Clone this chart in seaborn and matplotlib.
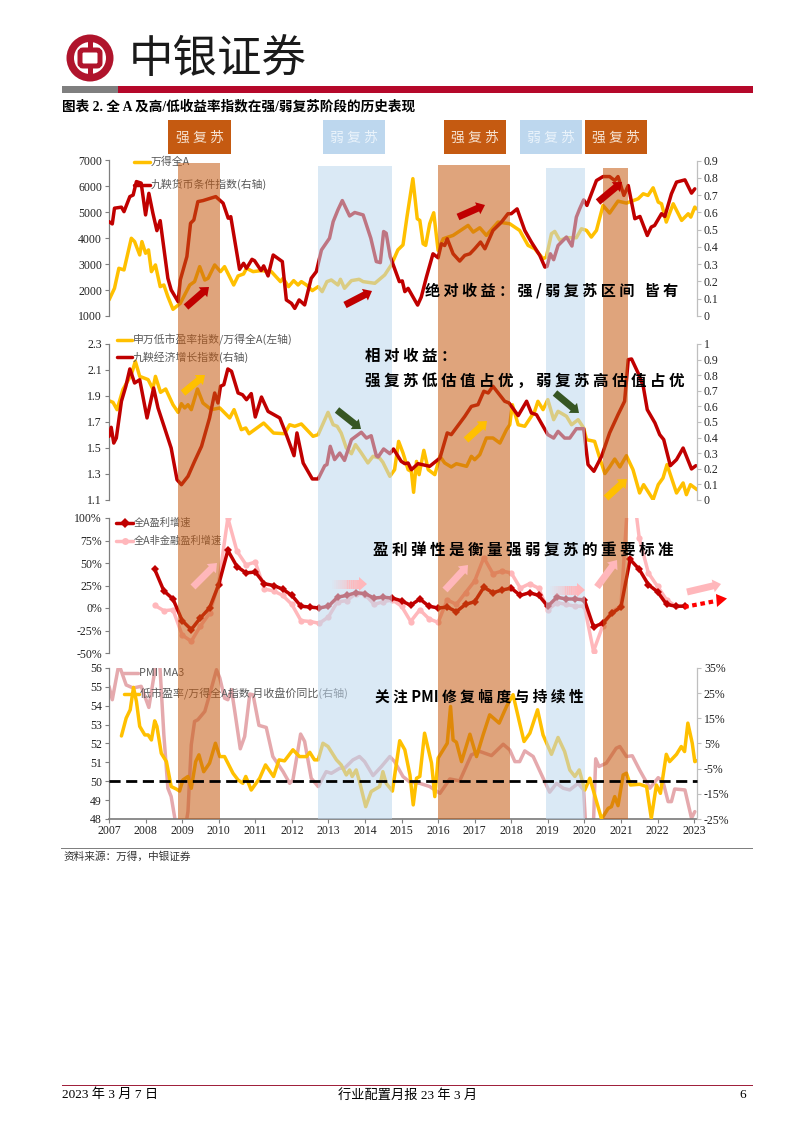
import matplotlib
matplotlib.use('Agg')
import numpy as np
import matplotlib.pyplot as plt
import seaborn as sns
from matplotlib.patches import Rectangle, Circle, FancyArrow, FancyBboxPatch, Polygon

# Panel 1
wind_x = [2007.0,2007.15,2007.27,2007.41,2007.61,2007.70,2007.84,2007.90,2008.0,2008.08,2008.16,2008.27,2008.40,2008.50,2008.61,2008.75,2008.95,2009.21,2009.34,2009.48,2009.62,2009.71,2009.89,2010.05,2010.16,2010.41,2010.53,2010.68,2010.76,2010.94,2011.16,2011.44,2011.69,2011.76,2011.91,2012.05,2012.17,2012.26,2012.40,2012.56,2012.72,2012.83,2012.96,2013.08,2013.26,2013.33,2013.44,2013.63,2013.84,2013.95,2014.27,2014.54,2014.72,2014.90,2015.04,2015.15,2015.31,2015.43,2015.50,2015.59,2015.66,2015.77,2015.88,2016.00,2016.14,2016.41,2016.82,2016.96,2017.14,2017.32,2017.64,2017.96,2018.23,2018.46,2018.64,2018.87,2018.96,2019.10,2019.19,2019.33,2019.51,2019.78,2019.92,2020.06,2020.19,2020.33,2020.51,2020.69,2020.92,2021.15,2021.47,2021.61,2021.74,2021.88,2022.02,2022.11,2022.24,2022.43,2022.66,2022.84,2022.91,2023.02,2023.06]
wind_y = [1618,2069,2841,2777,4000,3871,3356,3871,3420,3550,2712,2970,2133,2197,1747,1258,1490,2197,2326,2905,2390,2455,2970,2712,2905,2197,2545,2622,2841,2712,2751,2712,2326,2455,2133,2365,2197,2326,2197,1979,2133,1940,2326,2390,2197,2416,2069,2365,2416,2326,2262,2584,2970,3550,3743,4837,6300,4752,4688,3788,3724,4559,4984,3532,3981,4110,4495,4238,4405,4110,4624,4559,4302,3724,3596,3210,3274,4174,4264,3917,4020,4020,4367,4302,4045,4302,5266,4971,5433,5356,5523,5716,5652,5947,5395,5330,4624,5330,4688,4945,4816,5202,5138]
money_x = [2007.0,2007.09,2007.15,2007.34,2007.41,2007.57,2007.66,2007.75,2007.88,2008.0,2008.09,2008.20,2008.31,2008.40,2008.61,2008.70,2008.89,2008.95,2009.13,2009.23,2009.32,2009.43,2009.57,2009.92,2010.12,2010.26,2010.33,2010.57,2010.68,2010.76,2010.91,2010.98,2011.16,2011.23,2011.35,2011.49,2011.74,2011.85,2011.99,2012.08,2012.2,2012.35,2012.53,2012.67,2012.81,2013.03,2013.13,2013.26,2013.38,2013.58,2013.72,2013.95,2014.16,2014.31,2014.42,2014.51,2014.58,2014.69,2014.94,2015.02,2015.09,2015.18,2015.44,2015.54,2015.68,2015.86,2016.0,2016.09,2016.18,2016.25,2016.41,2016.59,2016.73,2016.87,2017.0,2017.16,2017.28,2017.50,2017.73,2017.91,2018.0,2018.16,2018.37,2018.55,2018.78,2018.92,2018.98,2019.07,2019.16,2019.28,2019.51,2019.66,2019.78,2019.87,2019.98,2020.07,2020.33,2020.51,2020.69,2020.83,2020.92,2021.08,2021.2,2021.38,2021.52,2021.72,2021.83,2021.92,2022.11,2022.2,2022.38,2022.52,2022.75,2022.93,2023.02]
money_y = [.546,.533,.624,.63,.604,.691,.70,.778,.769,.585,.71,.595,.494,.552,.218,.151,.083,.209,.344,.537,.556,.662,.668,.691,.653,.566,.575,.27,.305,.276,.328,.32,.263,.29,.232,.353,.315,.093,.073,.044,.093,.064,.218,.257,.382,.45,.546,.614,.668,.579,.599,.585,.45,.315,.309,.489,.479,.344,.199,.203,.141,.16,.063,.11,.225,.36,.337,.418,.408,.447,.36,.318,.351,.36,.389,.428,.389,.495,.543,.592,.592,.62,.495,.428,.351,.283,.287,.36,.326,.408,.457,.405,.572,.62,.672,.64,.784,.807,.807,.784,.807,.698,.755,.563,.576,.466,.515,.524,.592,.576,.707,.775,.788,.711,.736]

# Panel 2
lowpe_x = [2007.0,2007.11,2007.22,2007.38,2007.61,2007.72,2007.84,2008.07,2008.2,2008.27,2008.41,2008.55,2008.75,2008.89,2008.98,2009.07,2009.16,2009.25,2009.42,2009.57,2009.8,2010.03,2010.3,2010.42,2010.62,2010.74,2010.83,2011.23,2011.5,2011.8,2011.94,2012.08,2012.26,2012.58,2012.72,2012.99,2013.13,2013.24,2013.35,2013.49,2013.63,2013.74,2013.9,2014.08,2014.22,2014.4,2014.49,2014.68,2014.81,2014.92,2015.04,2015.18,2015.27,2015.33,2015.41,2015.48,2015.61,2015.73,2015.91,2016.05,2016.18,2016.36,2016.5,2016.78,2016.91,2017.0,2017.14,2017.32,2017.5,2017.69,2017.87,2017.96,2018.03,2018.19,2018.37,2018.64,2018.73,2018.87,2019.0,2019.16,2019.28,2019.51,2019.65,2019.83,2019.98,2020.06,2020.28,2020.42,2020.56,2020.69,2020.83,2020.97,2021.15,2021.33,2021.51,2021.62,2021.88,2022.02,2022.15,2022.26,2022.52,2022.7,2022.79,2022.9,2023.08]
lowpe_y = [1.864,1.851,1.795,1.949,2.064,2.167,2.051,2.026,1.954,2.051,1.928,1.954,1.833,1.774,1.841,1.808,1.833,1.795,1.954,1.846,1.795,1.808,1.731,1.795,1.641,1.654,1.61,1.692,1.615,1.61,1.679,1.667,1.685,1.59,1.603,1.774,1.679,1.667,1.615,1.5,1.456,1.526,1.462,1.385,1.436,1.423,1.39,1.282,1.333,1.551,1.462,1.333,1.32,1.159,1.397,1.295,1.482,1.333,1.295,1.436,1.385,1.354,1.379,1.359,1.436,1.41,1.449,1.577,1.577,1.538,1.641,1.679,1.833,1.679,1.667,1.782,1.859,1.795,1.872,1.718,1.782,1.744,1.679,1.718,1.654,1.564,1.551,1.423,1.303,1.354,1.415,1.354,1.441,1.333,1.154,1.218,1.103,1.218,1.269,1.372,1.154,1.231,1.141,1.218,1.18]
growth_x = [2007.0,2007.06,2007.13,2007.2,2007.34,2007.46,2007.57,2007.7,2007.84,2008.04,2008.22,2008.34,2008.52,2008.7,2008.86,2008.98,2009.16,2009.34,2009.53,2009.75,2009.89,2009.98,2010.05,2010.14,2010.25,2010.35,2010.53,2010.65,2010.76,2010.89,2011.0,2011.17,2011.35,2011.67,2011.85,2012.06,2012.14,2012.31,2012.56,2012.72,2012.9,2012.96,2013.05,2013.17,2013.31,2013.44,2013.63,2013.9,2014.04,2014.17,2014.31,2014.36,2014.51,2014.68,2014.78,2014.99,2015.09,2015.18,2015.27,2015.45,2015.77,2016.05,2016.25,2016.36,2016.73,2016.91,2017.09,2017.25,2017.37,2017.5,2017.82,2017.94,2018.19,2018.42,2018.55,2018.69,2019.0,2019.16,2019.28,2019.46,2019.6,2019.78,2019.98,2020.1,2020.26,2020.47,2020.69,2020.92,2021.1,2021.2,2021.29,2021.47,2021.61,2021.72,2021.93,2022.06,2022.17,2022.35,2022.52,2022.7,2022.93,2023.05]
growth_y = [.408,.466,.365,.397,.633,.729,.84,.75,.771,.526,.718,.59,.462,.333,.13,.098,.152,.248,.344,.526,.686,.622,.729,.739,.84,.825,.686,.675,.643,.682,.532,.66,.568,.526,.419,.284,.43,.237,.135,.135,.22,.227,.344,.259,.301,.254,.387,.434,.397,.412,.284,.276,.327,.297,.327,.248,.233,.237,.194,.233,.216,.269,.43,.419,.536,.6,.611,.697,.686,.729,.633,.622,.541,.633,.558,.547,.419,.397,.44,.397,.397,.457,.457,.227,.184,.28,.43,.547,.633,.9,.904,.814,.729,.579,.494,.419,.387,.22,.259,.333,.199,.22]

# Panel 3, quarterly from 2008Q2 to 2022Q4
profit_all = [43,19,10,-14,-24,-11,0,26,64,46,39,40,27,25,21,14,2,1,0,2,12,14,17,16,11,12,11,8,3,10,2,0,1,-4,4,7,23,17,20,22,14,17,14,2,12,10,10,9,-21,-17,-6,1,54,43,26,18,4,2,2]
profit_nonfin = [3,-3,-2,-30,-37,-20,-6,28,100,63,48,51,21,19,14,4,-14,-15,-17,-10,7,8,16,15,4,7,9,2,-15,-2,-12,-16,9,4,17,30,56,38,41,39,22,27,22,-2,6,4,2,2,-48,-20,-4,2,160,78,39,24,9,2,2]
profit_x = list(np.arange(2008.25, 2022.76, 0.25))

# Panel 4
pmi_x = [2007.0,2007.09,2007.27,2007.47,2007.66,2007.88,2008.09,2008.28,2008.39,2008.5,2008.61,2008.7,2008.8,2008.84,2009.07,2009.16,2009.25,2009.34,2009.43,2009.62,2009.75,2009.94,2010.03,2010.16,2010.25,2010.35,2010.44,2010.59,2010.71,2010.85,2010.94,2011.1,2011.3,2011.48,2011.76,2011.94,2012.03,2012.24,2012.35,2012.53,2012.72,2012.94,2013.08,2013.31,2013.44,2013.67,2013.85,2013.99,2014.22,2014.45,2014.68,2014.81,2015.04,2015.23,2015.5,2015.77,2016.05,2016.32,2016.59,2016.91,2017.14,2017.46,2017.78,2017.96,2018.1,2018.23,2018.37,2018.6,2018.83,2019.05,2019.24,2019.42,2019.6,2019.83,2019.98,2020.03,2020.15,2020.24,2020.31,2020.4,2020.6,2020.87,2020.97,2021.15,2021.31,2021.51,2021.79,2022.02,2022.15,2022.29,2022.38,2022.47,2022.75,2022.93,2023.02]
pmi_y = [55.03,54.32,56.2,55.1,54.94,55.03,53.91,56.18,56.18,52.46,49.63,49.19,48.04,47.3,47.3,48.4,51.93,53.17,53.26,53.7,54.58,55.91,55.47,54.4,54.32,54.85,53.7,51.72,52.37,54.62,54.58,52.96,52.85,51.31,50.51,49.89,50.07,52.5,52.11,50.16,49.72,50.51,50.42,50.69,50.69,51.13,51.31,51.04,50.3,50.78,51.31,51.04,50.25,49.95,49.89,49.72,49.36,50.12,50.02,51.4,51.58,51.36,51.96,51.66,51.04,51.04,51.61,51.31,50.34,49.42,49.89,49.63,49.54,49.89,49.54,47.86,47.3,47.3,51.19,50.78,50.96,51.75,51.84,51.31,51.35,50.6,49.63,50.19,49.98,48.92,48.92,49.59,49.54,48.04,48.39]
pe_yoy_x = [2007.34,2007.47,2007.58,2007.67,2007.75,2007.84,2007.98,2008.07,2008.16,2008.25,2008.31,2008.43,2008.57,2008.7,2008.84,2008.93,2009.02,2009.16,2009.25,2009.37,2009.46,2009.59,2009.75,2009.91,2010.03,2010.16,2010.39,2010.53,2010.66,2010.74,2010.89,2011.12,2011.28,2011.5,2011.65,2011.8,2012.03,2012.21,2012.4,2012.49,2012.62,2012.72,2012.85,2012.99,2013.22,2013.35,2013.49,2013.58,2013.65,2013.76,2013.85,2014.02,2014.17,2014.4,2014.49,2014.58,2014.75,2014.95,2015.09,2015.23,2015.32,2015.41,2015.5,2015.63,2015.82,2015.91,2016.0,2016.25,2016.34,2016.41,2016.5,2016.64,2016.87,2017.05,2017.23,2017.41,2017.67,2017.87,2018.05,2018.23,2018.35,2018.51,2018.72,2018.87,2019.1,2019.28,2019.46,2019.6,2019.74,2019.86,2020.01,2020.15,2020.28,2020.47,2020.65,2020.74,2020.83,2020.92,2021.06,2021.15,2021.26,2021.51,2021.7,2021.83,2021.97,2022.08,2022.24,2022.33,2022.52,2022.65,2022.74,2022.83,2022.95,2023.02,2023.06]
pe_yoy_y = [8.0,15.1,18.4,27.3,21.7,11.8,8.4,8.4,6.4,14.0,11.8,1.1,-2.2,-12.1,-13.1,-13.9,-9.5,-8.1,-12.8,-2.2,0.5,-6.2,-2.8,5.1,-0.2,-0.2,-6.8,-9.5,-10.8,-8.1,-13.5,-8.8,-3.5,-8.1,-1.5,-1.9,2.5,-0.2,-0.2,1.5,-1.5,-1.5,5.1,3.8,-1.5,-3.5,-7.5,-5.5,-8.1,-5.5,-10.1,-20.1,-14.1,-12.1,-6.2,-10.8,-13.9,6.1,2.5,-7.5,-19.4,-8.8,-8.1,9.1,-2.8,-16.1,-0.8,5.1,19.7,6.4,5.5,-2.2,8.7,-0.2,8.4,16.4,13.1,19.7,24.4,13.1,5.8,9.1,18.4,8.4,0.7,7.4,1.8,-5.5,-8.1,-5.5,-13.5,-8.8,-15.4,-25,-20.8,-20.1,-16.1,-19.7,-7.5,-6.8,-11.5,-11.2,-12.1,-24.7,-11.5,-14.8,0.7,-2.2,0.7,3.8,1.8,13.1,5.1,-2.2,-1.9]

year_ticks = list(range(2007, 2024))
strong_bands = [(2008.87, 2010.03), (2016.0, 2017.97), (2020.5, 2021.18)]
weak_bands = [(2012.72, 2014.74), (2018.95, 2020.0)]

GOLD = '#FFC000'
RED = '#C00000'
PINK = '#FFB7BB'
PMI_PINK = '#E5A9AD'
BROWN = '#C55A11'
BLUE = '#BDD7EE'
CJK = 'Noto Sans CJK SC'
SERIF = ['Liberation Serif', CJK]
LW = 2.5

sns.set_theme(style='ticks')
plt.rcParams['font.family'] = SERIF
plt.rcParams['axes.unicode_minus'] = False
plt.rcParams['lines.solid_joinstyle'] = 'round'

W, H = 802, 1133
fig = plt.figure(figsize=(W / 100, H / 100), dpi=100)
X0, X1 = 109, 697


def px(year):
    return 109.3 + (year - 2007) * 36.56


def make_ax(top, bottom):
    ax = fig.add_axes([X0 / W, 1 - bottom / H, (X1 - X0) / W, (bottom - top) / H])
    ax.set_xlim(2007, 2023.08)
    ax.patch.set_alpha(0)
    return ax


def style_axis(ax, side, color):
    ax.spines[['top', 'bottom', 'left', 'right']].set_visible(False)
    ax.spines[side].set_visible(True)
    ax.spines[side].set_color(color)
    ax.spines[side].set_linewidth(0.9)
    ax.tick_params(axis='y', colors=color, labelcolor='#222222', labelsize=8.5, length=3, width=0.8, pad=2)
    ax.tick_params(axis='x', bottom=False, labelbottom=False)
    ax.set_xlabel('')
    ax.set_ylabel('')


def line(ax, x, y, color, lw=LW, **kw):
    sns.lineplot(x=x, y=y, ax=ax, color=color, linewidth=lw, errorbar=None, sort=False, **kw)


def spaced(s):
    return ' '.join(s)


# panel 1
ax1 = make_ax(160.5, 316)
ax1r = ax1.twinx()
line(ax1, wind_x, wind_y, GOLD)
line(ax1r, money_x, money_y, RED)
ax1.set_ylim(1000, 7000)
ax1.set_yticks(range(1000, 7001, 1000))
ax1r.set_ylim(0, 0.9)
ax1r.set_yticks(np.arange(0, 0.91, 0.1))
ax1r.set_yticklabels(['0', '0.1', '0.2', '0.3', '0.4', '0.5', '0.6', '0.7', '0.8', '0.9'])

# panel 2
ax2 = make_ax(344, 500)
ax2r = ax2.twinx()
line(ax2, lowpe_x, lowpe_y, GOLD)
line(ax2r, growth_x, growth_y, RED)
ax2.set_ylim(1.1, 2.3)
ax2.set_yticks([1.1, 1.3, 1.5, 1.7, 1.9, 2.1, 2.3])
ax2r.set_ylim(0, 1)
ax2r.set_yticks(np.arange(0, 1.01, 0.1))
ax2r.set_yticklabels(['0', '0.1', '0.2', '0.3', '0.4', '0.5', '0.6', '0.7', '0.8', '0.9', '1'])

# panel 3
ax3 = make_ax(518, 653)
line(ax3, profit_x, profit_nonfin, PINK, marker='o', markersize=4.5, markeredgewidth=0)
line(ax3, profit_x, profit_all, RED, marker='D', markersize=4, markeredgewidth=0)
ax3.set_ylim(-50, 100)
ax3.set_yticks([-50, -25, 0, 25, 50, 75, 100])
ax3.set_yticklabels(['-50%', '-25%', '0%', '25%', '50%', '75%', '100%'])

# panel 4
ax4 = make_ax(668, 819)
ax4r = ax4.twinx()
line(ax4, pmi_x, pmi_y, PMI_PINK)
line(ax4r, pe_yoy_x, pe_yoy_y, GOLD)
ax4.set_ylim(48, 56)
ax4.set_yticks(range(48, 57))
ax4r.set_ylim(-25, 35)
ax4r.set_yticks(range(-25, 36, 10))
ax4r.set_yticklabels([f'{v}%' for v in range(-25, 36, 10)])

for a in (ax1, ax2, ax3, ax4):
    style_axis(a, 'left', '#7F7F7F')
for a in (ax1r, ax2r, ax4r):
    style_axis(a, 'right', '#BFBFBF')
ax4.spines['bottom'].set_visible(True)
ax4.spines['bottom'].set_color('#7F7F7F')
ax4.set_xticks(year_ticks)
ax4.tick_params(axis='x', bottom=True, labelbottom=True, colors='#7F7F7F', labelcolor='#222222',
                labelsize=8.5, length=3, width=0.8, pad=1)
ax4r.tick_params(axis='x', bottom=False, labelbottom=False)

# page furniture and shading on one pixel-scaled overlay
ov = fig.add_axes([0, 0, 1, 1], zorder=20)
ov.set_xlim(0, W)
ov.set_ylim(H, 0)
ov.axis('off')
ov.patch.set_alpha(0)


def rect(x0, y0, x1, y1, color, alpha=1.0, z=1):
    ov.add_patch(Rectangle((x0, y0), x1 - x0, y1 - y0, facecolor=color, edgecolor='none', alpha=alpha, zorder=z))


def label(x, y, s, size, color='black', family=CJK, z=6, ha='left', **kw):
    ov.text(x, y, s, fontsize=size, color=color, family=family, ha=ha, va='center', zorder=z, **kw)


# logo
LOGO = '#B0142C'
cx, cy = 90, 58
ov.add_patch(Circle((cx, cy), 23.5, facecolor=LOGO, edgecolor='none', zorder=2))
ov.add_patch(Circle((cx, cy), 16, facecolor='white', edgecolor='none', zorder=2))
rect(cx - 2.5, cy - 20, cx + 2.5, cy + 20, LOGO, z=3)
ov.add_patch(FancyBboxPatch((cx - 10, cy - 8), 20, 16, boxstyle='round,pad=0,rounding_size=3',
                            facecolor='white', edgecolor=LOGO, linewidth=3.6, zorder=4))
label(129, 59, '中银证券', 32, color='#1A1A1A')

rect(62, 85.5, 118, 92.5, '#7F7F7F')
rect(118, 85.5, 753, 92.5, '#B5082A')
label(62, 106.5, '图表 2. 全 A 及高/低收益率指数在强/弱复苏阶段的历史表现', 9.8, family=SERIF, fontweight='bold')
rect(61, 116.6, 753, 117.4, '#666666')

for x0, x1, name in [(168, 231, '强'), (323, 385, '弱'), (444, 506, '强'), (520, 582, '弱'), (585, 647, '强')]:
    is_strong = name == '强'
    rect(x0, 120, x1, 154, BROWN if is_strong else BLUE, z=3)
    label((x0 + x1) / 2, 137.5, name + ' 复 苏', 10, color='#F6E3D2' if is_strong else '#EAF3FB', ha='center')

for (a, b), top in zip(strong_bands, [163, 165, 168]):
    rect(px(a), top, px(b), 819, BROWN, alpha=0.55, z=2)
for (a, b), top in zip(weak_bands, [166, 168]):
    rect(px(a), top, px(b), 819, BLUE, alpha=0.55, z=2)

# dashed PMI 50 line above the shading
pmi_y50 = 668 + (56 - 50) / 8 * 151
ov.plot([X0, X1], [pmi_y50, pmi_y50], color='black', lw=2, dashes=(4, 2), zorder=5)

# legends
LEG = '#595959'
for y, x0, x1, c, s, fs in [(162, 134, 150, GOLD, '万得全A', 7.8),
                            (184.5, 134, 150, RED, '九鞅货币条件指数(右轴)', 7.8),
                            (340, 117, 132, GOLD, '申万低市盈率指数/万得全A(左轴)', 7.8),
                            (357, 117, 132, RED, '九鞅经济增长指数(右轴)', 7.8),
                            (673, 123, 138, PMI_PINK, 'PMI  MA3', 7.8),
                            (694, 124, 139, GOLD, '低市盈率/万得全A指数 月收盘价同比(右轴)', 7.9)]:
    ov.plot([x0, x1], [y, y], color=c, lw=LW, zorder=1)
    label(x1 + 1, y, s, fs, color=LEG, z=1)
for y, c, m, s in [(523, RED, 'D', '全A盈利增速'), (541, PINK, 'o', '全A非金融盈利增速')]:
    ov.plot([116, 133], [y, y], color=c, lw=LW, zorder=1)
    ov.plot([124.5], [y], color=c, marker=m, markersize=5, markeredgewidth=0, zorder=1)
    label(134, y, s, 7.4, color=LEG, z=1)

# arrows
arrows = [(186, 307, 209, 287, RED), (345, 305, 372, 291, RED), (458, 217, 485, 205, RED), (598, 202, 622, 182, RED),
          (183, 393, 205, 375, GOLD), (466, 440, 487, 421, GOLD), (606, 498, 627, 479, GOLD),
          (337, 410, 361, 429, '#375623'), (555, 393, 579, 413, '#375623'),
          (193, 587, 217, 563, PINK), (445, 590, 468, 565, PINK), (597, 587, 617, 560, PINK), (687, 592, 721, 584, PINK)]
for x0, y0, x1, y1, c in arrows:
    ov.add_patch(FancyArrow(x0, y0, x1 - x0, y1 - y0, width=7, head_width=13, head_length=8,
                            length_includes_head=True, facecolor=c, edgecolor='none', zorder=4))

# fading pink arrows
for x0, x1, y in [(332, 367, 584), (550, 585, 590)]:
    xs = np.linspace(x0, x1 - 8, 15)
    for i in range(14):
        rect(xs[i], y - 4.5, xs[i + 1] + 0.3, y + 4.5, PINK, alpha=i / 14 * 0.95 + 0.05, z=4)
    ov.add_patch(Polygon([(x1 - 8, y - 7), (x1, y), (x1 - 8, y + 7)], facecolor=PINK, edgecolor='none', zorder=4))

# dotted forecast arrow
ov.plot([684, 716], [607, 601], color='#FF0000', lw=3, dashes=(1.1, 0.9), zorder=4)
ov.add_patch(Polygon([(716, 594), (727, 598.5), (717, 607)], facecolor='#FF0000', edgecolor='none', zorder=4))

# notes
label(425, 290, '绝 对 收 益 \uff1a 强 / 弱 复 苏 区 间   皆 有', 10.9, fontweight='bold')
label(365, 356, spaced('相对收益\uff1a'), 11.2, fontweight='bold')
label(365, 381, spaced('强复苏低估值占优\uff0c弱复苏高估值占优'), 11.2, fontweight='bold')
label(373, 550, spaced('盈利弹性是衡量强弱复苏的重要标准'), 11.2, fontweight='bold')
label(375, 697, '关 注 PMI 修 复 幅 度 与 持 续 性', 10.6, fontweight='bold')

# footer
rect(61, 847.6, 753, 848.6, '#808080')
label(63, 857, '资料来源\uff1a万得\uff0c中银证券', 7.7, color='#333333')
rect(62, 1084.6, 753, 1085.6, '#A0213C')
label(62, 1095, '2023 年 3 月 7 日', 9.5, family=SERIF)
label(408, 1095, '行业配置月报 23 年 3 月', 9.5, family=SERIF, ha='center')
label(743, 1095, '6', 9.5, family=SERIF, ha='center')

fig.savefig('out.png', dpi=100)
